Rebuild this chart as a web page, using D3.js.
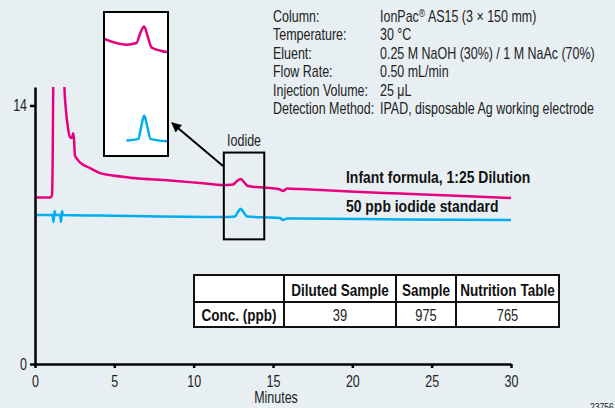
<!DOCTYPE html>
<html lang="en">
<head>
<meta charset="UTF-8" />
<title>Iodide in infant formula</title>
<style>
  * { margin: 0; padding: 0; }
  body { background: #e8eff3; }
  svg { display: block; font-family: "Liberation Sans", Arial, sans-serif; }
</style>
</head>
<body>
<script src="https://d3js.org/d3.v7.min.js"></script>
<script>
// chromatogram traces, [minutes, signal]
const sampleTrace = [
  [0.05, 9.02], [0.99, 9.02], [1.07, 9.15], [1.15, 15.5], [1.18, 25], [1.5, 40], [1.80, 25],
  [1.85, 15.1], [1.95, 13.75], [2.08, 12.78], [2.2, 12.29], [2.33, 12.24], [2.41, 12.5],
  [2.46, 12.13], [2.52, 11.3], [2.71, 11.04], [2.96, 10.83], [3.47, 10.61], [4.1, 10.34],
  [4.73, 10.23], [6.18, 10.07], [8.5, 9.94], [10.4, 9.8], [11.85, 9.69], [12.48, 9.72],
  [12.73, 9.91], [12.96, 10.02], [13.17, 9.85], [13.42, 9.64], [13.99, 9.58], [14.81, 9.53],
  [15.44, 9.45], [15.63, 9.37], [15.88, 9.5], [16.7, 9.47], [19.85, 9.34], [23.0, 9.23],
  [26.15, 9.12], [30.0, 8.99]
];
const standardTrace = [
  [0.05, 8.07], [1.1, 8.07], [1.17, 7.69], [1.23, 8.28], [1.29, 8.07], [1.58, 8.07],
  [1.64, 7.69], [1.7, 8.28], [1.76, 8.07], [4.1, 8.04], [11.85, 7.96], [12.6, 7.99],
  [12.79, 8.23], [12.96, 8.41], [13.14, 8.23], [13.36, 7.99], [15.44, 7.9], [15.63, 7.8],
  [15.88, 7.88], [16.7, 7.88], [23.0, 7.83], [30.0, 7.8]
];
const seriesNames = ["Infant formula, 1:25 Dilution", "50 ppb iodide standard"];
const seriesColors = ["#e6007e", "#00aeef"];
const xTicks = [0, 5, 10, 15, 20, 25, 30];
const yTicks = [0, 14];
const conditionLabels = ["Column:", "Temperature:", "Eluent:", "Flow Rate:", "Injection Volume:", "Detection Method:"];
const conditionValues = ["IonPac® AS15 (3 × 150 mm)", "30 °C", "0.25 M NaOH (30%) / 1 M NaAc (70%)",
  "0.50 mL/min", "25 μL", "IPAD, disposable Ag working electrode"];
const tableHeader = ["", "Diluted Sample", "Sample", "Nutrition Table"];
const tableRow = ["Conc. (ppb)", "39", "975", "765"];

const width = 615, height = 408;
const NARROW = 0.78, NARROW_BOLD = 0.82;
const svg = d3.select("body").append("svg").attr("width", width).attr("height", height);
const defs = svg.append("defs");

// condensed text: Liberation Sans squeezed horizontally
function label(parent, px, py, str, size, bold, anchor) {
  const sx = bold ? NARROW_BOLD : NARROW;
  const t = parent.append("g").attr("transform", `translate(${px},${py}) scale(${sx},1)`)
    .append("text").attr("font-size", size).attr("fill", bold ? "#111" : "#222")
    .attr("font-weight", bold ? "bold" : "normal").attr("text-anchor", anchor || "start");
  if (str !== null) t.text(str);
  return t;
}

const x = d3.scaleLinear().domain([0, 30]).range([35, 511]);
const y = d3.scaleLinear().domain([0, 15]).range([364, 87]);

defs.append("clipPath").attr("id", "plot")
  .append("rect").attr("x", 35).attr("y", 87).attr("width", 490).attr("height", 277);

const line = d3.line().x(d => x(d[0])).y(d => y(d[1])).curve(d3.curveMonotoneX);

const traces = svg.append("g").attr("clip-path", "url(#plot)");
[sampleTrace, standardTrace].forEach((t, i) => {
  traces.append("path").attr("d", line(t))
    .attr("fill", "none").attr("stroke", seriesColors[i]).attr("stroke-width", 2.5)
    .attr("stroke-linejoin", "round");
});

// axes
const xAxis = svg.append("g").attr("transform", "translate(0,364)")
  .call(d3.axisBottom(x).tickValues(xTicks).tickSize(4).tickSizeOuter(0).tickPadding(8));
const yAxis = svg.append("g").attr("transform", "translate(35,0)")
  .call(d3.axisLeft(y).tickValues(yTicks).tickSize(5).tickSizeOuter(0).tickPadding(3));
[xAxis, yAxis].forEach(a => {
  a.attr("font-family", null).attr("font-size", null);
  a.select(".domain").attr("stroke", "#000").attr("stroke-width", 2.5);
  a.selectAll(".tick line").attr("stroke", "#000").attr("stroke-width", 2.5);
  a.selectAll(".tick text").attr("fill", "#222").attr("font-size", 16)
    .attr("x", function () { return (+d3.select(this).attr("x") || 0) / NARROW; })
    .attr("transform", `scale(${NARROW},1)`);
});
label(svg, x(15) + 3, 403, "Minutes", 16, false, "middle");

// iodide box in the plot
const boxT = [11.9, 14.45], boxS = [6.75, 11.45];
svg.append("rect").attr("x", x(boxT[0])).attr("y", y(boxS[1]))
  .attr("width", x(boxT[1]) - x(boxT[0])).attr("height", y(boxS[0]) - y(boxS[1]))
  .attr("fill", "none").attr("stroke", "#000").attr("stroke-width", 2);
label(svg, x((boxT[0] + boxT[1]) / 2), 146, "Iodide", 16, false, "middle");

// magnified inset
const ix = d3.scaleLinear().domain([10.45, 14.45]).range([104, 168]);
const iy = d3.scaleLinear().domain([7.68, 10.28]).range([156, 12]);
defs.append("clipPath").attr("id", "inset")
  .append("rect").attr("x", 104).attr("y", 12).attr("width", 64).attr("height", 144);
svg.append("rect").attr("x", 104).attr("y", 12).attr("width", 64).attr("height", 144)
  .attr("fill", "#fff");
const iline = d3.line().x(d => ix(d[0])).y(d => iy(d[1])).curve(d3.curveMonotoneX);
const insetG = svg.append("g").attr("clip-path", "url(#inset)");
[sampleTrace, standardTrace].forEach((t, i) => {
  insetG.append("path").attr("d", iline(t.filter(d => d[0] > 9 && d[0] < 16)))
    .attr("fill", "none").attr("stroke", seriesColors[i]).attr("stroke-width", 2.5);
});
svg.append("rect").attr("x", 104).attr("y", 12).attr("width", 64).attr("height", 144)
  .attr("fill", "none").attr("stroke", "#000").attr("stroke-width", 2);

// arrow
defs.append("marker").attr("id", "arrow").attr("viewBox", "0 0 10 10")
  .attr("refX", 9).attr("refY", 5).attr("markerWidth", 5).attr("markerHeight", 5)
  .attr("orient", "auto").append("path").attr("d", "M0,0L10,5L0,10Z").attr("fill", "#000");
svg.append("line").attr("x1", 223).attr("y1", 166).attr("x2", 172).attr("y2", 123)
  .attr("stroke", "#000").attr("stroke-width", 2).attr("marker-end", "url(#arrow)");

// series labels
seriesNames.forEach((n, i) => label(svg, 346, 183 + i * 29, n, 17, true));

// conditions
conditionLabels.forEach((l, i) => {
  const yy = 22 + i * 18.4;
  label(svg, 273, yy, l, 16, false);
  const v = label(svg, 380, yy, null, 16, false);
  if (conditionValues[i].includes("®")) {
    const parts = conditionValues[i].split("®");
    v.append("tspan").text(parts[0]);
    v.append("tspan").attr("font-size", 11).attr("dy", -5).text("®");
    v.append("tspan").attr("dy", 5).text(parts[1]);
  } else {
    v.text(conditionValues[i]);
  }
});

// results table
const colEdges = [194, 284, 396, 456, 559];
const rowEdges = [275, 302, 327];
const tbl = svg.append("g");
tbl.append("rect").attr("x", colEdges[0]).attr("y", rowEdges[0])
  .attr("width", colEdges[4] - colEdges[0]).attr("height", rowEdges[2] - rowEdges[0])
  .attr("fill", "#fff").attr("stroke", "#111").attr("stroke-width", 2);
colEdges.slice(1, 4).forEach(cx => {
  tbl.append("line").attr("x1", cx).attr("x2", cx).attr("y1", rowEdges[0]).attr("y2", rowEdges[2])
    .attr("stroke", "#111").attr("stroke-width", 2);
});
tbl.append("line").attr("x1", colEdges[0]).attr("x2", colEdges[4]).attr("y1", rowEdges[1]).attr("y2", rowEdges[1])
  .attr("stroke", "#111").attr("stroke-width", 2);
tableHeader.forEach((h, i) => {
  label(tbl, (colEdges[i] + colEdges[i + 1]) / 2, 296, h, 16.5, true, "middle");
});
tableRow.forEach((c, i) => {
  label(tbl, (colEdges[i] + colEdges[i + 1]) / 2, 321, c, 16.5, i === 0, "middle");
});

label(svg, 590, 411, "23756", 11, false);
</script>
</body>
</html>
